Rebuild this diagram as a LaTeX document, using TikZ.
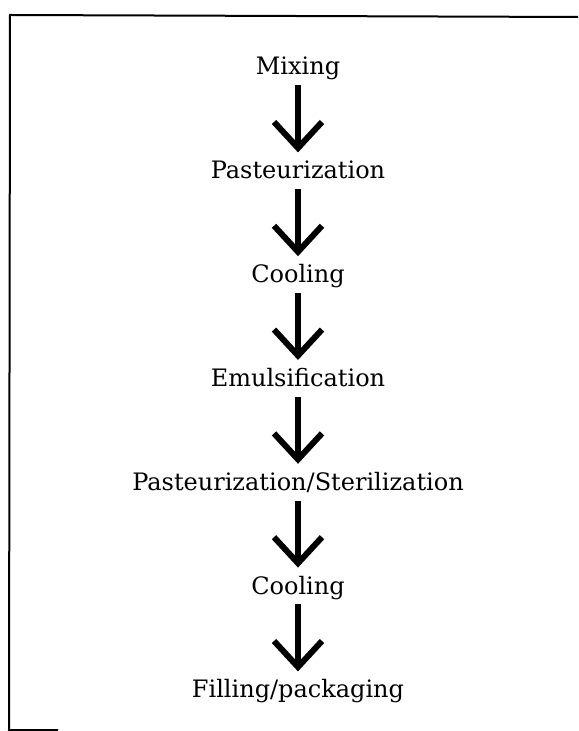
\documentclass[tikz,border=0pt]{standalone}
\usepackage{fontspec}
\setmainfont{DejaVu Serif}
\usetikzlibrary{positioning,arrows.meta}

\begin{document}
\begin{tikzpicture}[
  x=0.5pt, y=-0.5pt,
  node distance=33.5pt,
  stage/.style={inner xsep=2pt, inner ysep=3pt, text height=10pt, text depth=2pt, font=\fontsize{12}{14}\selectfont},
  flow/.style={-{Straight Barb[length=13pt,width=24pt]}, line width=3pt},
  frame/.style={line width=1pt},
]
\useasboundingbox (0,0) rectangle (578,731);

% frame: left and top edges, short stub at the bottom
\draw[frame] (58,730) -- (9,730) -- (10,15) -- (578,17);

% process stages
\node[stage, anchor=base] (mix) at (298,75) {Mixing};
\node[stage, below=of mix] (past) {Pasteurization};
\node[stage, below=of past] (cool) {Cooling};
\node[stage, below=of cool] (emul) {Emulsification};
\node[stage, below=of emul] (ster) {Pasteurization/Sterilization};
\node[stage, below=of ster] (cool2) {Cooling};
\node[stage, below=of cool2] (fill) {Filling/packaging};

% arrows
\draw[flow] (mix) -- (past);
\draw[flow] (past) -- (cool);
\draw[flow] (cool) -- (emul);
\draw[flow] (emul) -- (ster);
\draw[flow] (ster) -- (cool2);
\draw[flow] (cool2) -- (fill);

\end{tikzpicture}
\end{document}
